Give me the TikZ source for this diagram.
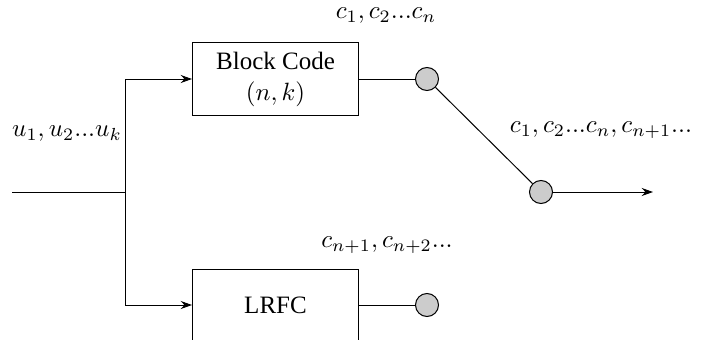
\documentclass[tikz,border=0pt]{standalone}
\usepackage{fontspec}
\setmainfont{Liberation Serif}
\usetikzlibrary{arrows.meta}
\begin{document}
\begin{tikzpicture}[x=0.4pt,y=-0.4pt,
  blk/.style={draw,rectangle,minimum width=66.4pt,minimum height=28.8pt,inner sep=0pt,align=center,font=\fontsize{10}{12.4}\selectfont},
  sw/.style={draw,circle,fill=black!20,minimum size=9.2pt,inner sep=0pt},
  arr/.style={-{Stealth[length=4.5pt,width=3.2pt]}},
  lbl/.style={inner sep=0pt}]
\useasboundingbox (0,0) rectangle (707,340);
\clip (0,0) rectangle (707,340);
\node[blk] (bc) at (275.5,79) {Block Code\\$(n,k)$};
\node[blk] (lr) at (275.5,305) {LRFC};
\coordinate (in) at (12,192);
\coordinate (j) at (125,192);
\coordinate (jt) at (125,79);
\coordinate (jb) at (125,305);
\node[sw] (s1) at (427,79) {};
\node[sw] (s2) at (541,192) {};
\node[sw] (s3) at (427,305) {};
\coordinate (out) at (653,192);
\draw (in) -- (j);
\draw[arr] (j) -- (jt) -- (bc.west);
\draw[arr] (j) -- (jb) -- (lr.west);
\draw (bc.east) -- (s1);
\draw (lr.east) -- (s3);
\draw (s1) -- (s2);
\draw[arr] (s2) -- (out);
\node[lbl] (l1) at (386,16) {$c_1, c_2...c_n$};
\node[lbl] (l2) at (67,134) {$u_1, u_2...u_k$};
\node[lbl] (l3) at (601,130) {$c_1, c_2...c_n, c_{n+1}...$};
\node[lbl] (l4) at (387,245) {$c_{n+1}, c_{n+2}...$};
\end{tikzpicture}
\end{document}
